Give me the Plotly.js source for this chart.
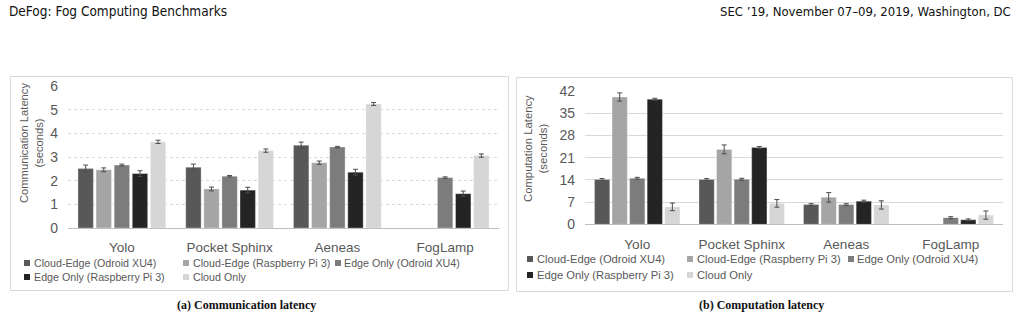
<!DOCTYPE html>
<html><head><meta charset="utf-8">
<script src="https://cdn.plot.ly/plotly-3.0.1.min.js"></script>
<style>
body{margin:0;background:#fff;}
#wrap{position:relative;width:1020px;height:320px;overflow:hidden;}
#figA,#figB{position:absolute;top:0;width:510px;height:320px;}
#figA{left:0;} #figB{left:510px;}
</style>
</head><body>
<div id="wrap"><div id="figA"></div><div id="figB"></div></div>
<script>
// ---------- data ----------
const categories = ['Yolo', 'Pocket Sphinx', 'Aeneas', 'FogLamp'];
const seriesNames = ['Cloud-Edge (Odroid XU4)', 'Cloud-Edge (Raspberry Pi 3)', 'Edge Only (Odroid XU4)', 'Edge Only (Raspberry Pi 3)', 'Cloud Only'];

// (a) Communication latency, seconds
const commCloudEdgeOdroid = [2.51, 2.57, 3.50, null];
const commCloudEdgeRpi    = [2.46, 1.65, 2.76, null];
const commEdgeOdroid      = [2.66, 2.19, 3.42, 2.13];
const commEdgeRpi         = [2.30, 1.60, 2.36, 1.45];
const commCloudOnly       = [3.64, 3.27, 5.24, 3.06];
const commErrCloudEdgeOdroid = [0.15, 0.13, 0.13, null];
const commErrCloudEdgeRpi    = [0.08, 0.08, 0.07, null];
const commErrEdgeOdroid      = [0.04, 0.03, 0.03, 0.03];
const commErrEdgeRpi         = [0.12, 0.12, 0.12, 0.11];
const commErrCloudOnly       = [0.07, 0.07, 0.06, 0.07];

// (b) Computation latency, seconds
const compCloudEdgeOdroid = [14.1, 14.1, 6.2, null];
const compCloudEdgeRpi    = [40.1, 23.6, 8.5, null];
const compEdgeOdroid      = [14.5, 14.2, 6.2, 2.1];
const compEdgeRpi         = [39.4, 24.2, 7.3, 1.4];
const compCloudOnly       = [5.5, 6.6, 6.1, 2.9];
const compErrCloudEdgeOdroid = [0.3, 0.3, 0.3, null];
const compErrCloudEdgeRpi    = [1.3, 1.4, 1.5, null];
const compErrEdgeOdroid      = [0.3, 0.3, 0.3, 0.3];
const compErrEdgeRpi         = [0.3, 0.3, 0.3, 0.3];
const compErrCloudOnly       = [1.2, 1.2, 1.3, 1.3];

const commTicks = [0, 1, 2, 3, 4, 5, 6];
const compTicks = [0, 7, 14, 21, 28, 35, 42];

// ---------- styling ----------
const seriesColors = ['#585858', '#a5a5a5', '#7c7c7c', '#242424', '#d6d6d6'];
const W = 510, H = 320;
const py = y => 1 - y / H;
const grey = '#595959';
const sans = 'Liberation Sans, Arial, sans-serif';

function makeTraces(vals, errs) {
  return vals.map((v, i) => ({
    type: 'bar', name: seriesNames[i], x: categories, y: v,
    marker: {color: seriesColors[i], line: {color: 'rgba(255,255,255,0.6)', width: 0.5}},
    error_y: {type: 'data', array: errs[i], visible: true, color: '#4d4d4d', thickness: 1, width: 2.5},
    hoverinfo: 'skip', showlegend: false
  }));
}

// legend drawn as small squares + text, laid out like the original (3 columns, 2 rows)
function legendItems(o, px) {
  const shapes = [], anns = [];
  seriesNames.forEach((name, i) => {
    const col = i % 3, row = Math.floor(i / 3);
    const yc = o.rows[row];
    const sx = o.sqX[col];
    shapes.push({type: 'rect', xref: 'paper', yref: 'paper',
      x0: px(sx), x1: px(sx + o.sq), y0: py(yc + o.sq / 2), y1: py(yc - o.sq / 2),
      fillcolor: seriesColors[i], line: {width: 0}});
    anns.push({text: name, xref: 'paper', yref: 'paper', x: px(o.txX[col]), y: py(yc),
      xanchor: 'left', yanchor: 'middle', showarrow: false, borderpad: 0,
      font: {size: o.font, color: grey, family: sans}});
  });
  return {shapes, anns};
}

function makeLayout(o, px) {
  const leg = legendItems(o.legend, px);
  return {
    width: W, height: H, autosize: false,
    margin: {l: 0, r: 0, t: 0, b: 0},
    paper_bgcolor: '#fff', plot_bgcolor: 'rgba(0,0,0,0)',
    barmode: 'group', bargap: o.bargap, bargroupgap: o.bargroupgap,
    font: {family: sans, color: grey},
    showlegend: false,
    xaxis: {
      domain: o.xdom, type: 'category', showgrid: false, zeroline: false,
      showline: true, linecolor: '#bfbfbf', linewidth: 1, ticks: '',
      tickfont: {size: 13.5, color: grey, family: sans}, ticklabelstandoff: 7,
      fixedrange: true
    },
    yaxis: {
      domain: o.ydom, range: o.yrange, tickvals: o.ticks, ticktext: o.ticks.map(String),
      showgrid: true, gridcolor: '#d9d9d9', gridwidth: 1, griddash: o.griddash,
      zeroline: false, showline: false, ticks: '',
      tickfont: {size: 14, color: grey, family: sans}, ticklabelstandoff: 9,
      fixedrange: true
    },
    shapes: [{
      type: 'rect', xref: 'paper', yref: 'paper', layer: 'below',
      x0: o.box[0], x1: o.box[1], y0: o.box[2], y1: o.box[3],
      line: {color: '#d9d9d9', width: 1}, fillcolor: 'rgba(0,0,0,0)'
    }].concat(leg.shapes),
    annotations: o.annotations.concat(leg.anns)
  };
}

// ---------- (a) ----------
const pa = x => x / W;
const layoutA = makeLayout({
  bargap: 0.16, bargroupgap: 0.15,
  xdom: [pa(68), pa(499)], ydom: [py(228), py(86)], yrange: [0, 6], ticks: commTicks,
  griddash: 'dot',
  legend: {rows: [263, 277], sqX: [24, 183, 335], txX: [33, 192, 343], sq: 6, font: 10.7},
  box: [pa(10.5), pa(508.5), py(290.5), py(76.5)],
  annotations: [
    {text: 'Communication Latency<br>(seconds)', textangle: -90, xref: 'paper', yref: 'paper',
     x: pa(31), y: py(143), xanchor: 'center', yanchor: 'middle', showarrow: false,
     font: {size: 11.2, color: grey, family: sans}},
    {text: 'DeFog: Fog Computing Benchmarks', xref: 'paper', yref: 'paper',
     x: pa(7), y: py(11), xanchor: 'left', yanchor: 'middle', showarrow: false,
     font: {size: 13.5, color: '#111', family: 'Liberation Sans Narrow, DejaVu Sans Condensed, sans-serif'}},
    {text: '<b>(a) Communication latency</b>', xref: 'paper', yref: 'paper',
     x: pa(246), y: py(305), xanchor: 'center', yanchor: 'middle', showarrow: false,
     font: {size: 12, color: '#111', family: 'Liberation Serif, DejaVu Serif, serif'}}
  ]
}, pa);
Plotly.newPlot('figA', makeTraces(
  [commCloudEdgeOdroid, commCloudEdgeRpi, commEdgeOdroid, commEdgeRpi, commCloudOnly],
  [commErrCloudEdgeOdroid, commErrCloudEdgeRpi, commErrEdgeOdroid, commErrEdgeRpi, commErrCloudOnly]
), layoutA, {displayModeBar: false, staticPlot: true});

// ---------- (b) ----------
const qx = x => (x - 510) / W;
const layoutB = makeLayout({
  bargap: 0.16, bargroupgap: 0.13,
  xdom: [qx(585), qx(1003)], ydom: [py(224.3), py(91)], yrange: [0, 42], ticks: compTicks,
  griddash: 'solid',
  legend: {rows: [259, 275], sqX: [527, 687, 848], txX: [536, 696, 856], sq: 6, font: 11.2},
  box: [qx(516.5), qx(1012.5), py(291.5), py(77.5)],
  annotations: [
    {text: 'Computation Latency<br>(seconds)', textangle: -90, xref: 'paper', yref: 'paper',
     x: qx(535), y: py(149), xanchor: 'center', yanchor: 'middle', showarrow: false,
     font: {size: 11.3, color: grey, family: sans}},
    {text: 'SEC ’19, November 07–09, 2019, Washington, DC', xref: 'paper', yref: 'paper',
     x: qx(1013), y: py(11), xanchor: 'right', yanchor: 'middle', showarrow: false,
     font: {size: 13, color: '#111', family: 'Liberation Sans Narrow, DejaVu Sans Condensed, sans-serif'}},
    {text: '<b>(b) Computation latency</b>', xref: 'paper', yref: 'paper',
     x: qx(761), y: py(305), xanchor: 'center', yanchor: 'middle', showarrow: false,
     font: {size: 12, color: '#111', family: 'Liberation Serif, DejaVu Serif, serif'}}
  ]
}, qx);
Plotly.newPlot('figB', makeTraces(
  [compCloudEdgeOdroid, compCloudEdgeRpi, compEdgeOdroid, compEdgeRpi, compCloudOnly],
  [compErrCloudEdgeOdroid, compErrCloudEdgeRpi, compErrEdgeOdroid, compErrEdgeRpi, compErrCloudOnly]
), layoutB, {displayModeBar: false, staticPlot: true});
</script>
</body></html>
